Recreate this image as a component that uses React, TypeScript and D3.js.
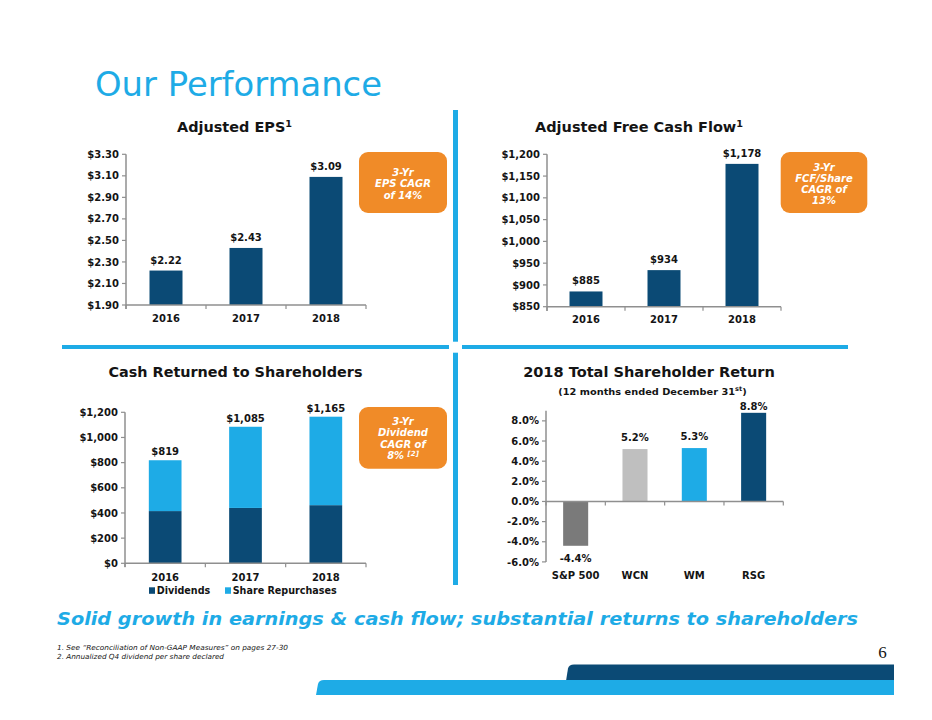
import React from "react";
import * as d3 from "d3";

const years = ["2016", "2017", "2018"];
const epsValues = [2.22, 2.43, 3.09];
const epsTicks = [1.9, 2.1, 2.3, 2.5, 2.7, 2.9, 3.1, 3.3];
const fcfValues = [885, 934, 1178];
const fcfTicks = [850, 900, 950, 1000, 1050, 1100, 1150, 1200];
const dividends = [415, 440, 462];
const repurchases = [404, 645, 703];
const cashTotals = [819, 1085, 1165];
const cashTicks = [0, 200, 400, 600, 800, 1000, 1200];
const tsrCategories = ["S&P 500", "WCN", "WM", "RSG"];
const tsrValues = [-4.4, 5.2, 5.3, 8.8];
const tsrTicks = [-6, -4, -2, 0, 2, 4, 6, 8];

const NAVY = "#0b4a75";
const LIGHT = "#1eabe6";
const ORANGE = "#f08b28";
const AXIS = "#8f8f8f";
const TEXT = "#141414";
const FONT = "DejaVu Sans, Verdana, sans-serif";

type YAxisProps = {
  scale: d3.ScaleLinear<number, number>;
  ticks: number[];
  x: number;
  top: number;
  bottom: number;
  fmt: (v: number) => string;
};

function YAxis({ scale, ticks, x, top, bottom, fmt }: YAxisProps) {
  return (
    <g>
      <line x1={x} x2={x} y1={top} y2={bottom} stroke={AXIS} strokeWidth={1.5} />
      {ticks.map((t) => (
        <g key={t}>
          <line x1={x - 4} x2={x} y1={scale(t)} y2={scale(t)} stroke={AXIS} strokeWidth={1.2} />
          <text
            x={x - 7}
            y={scale(t)}
            dy="0.36em"
            textAnchor="end"
            fontFamily={FONT}
            fontWeight="bold"
            fontSize={10}
            fill={TEXT}
          >
            {fmt(t)}
          </text>
        </g>
      ))}
    </g>
  );
}

type XAxisProps = {
  scale: d3.ScaleBand<string>;
  y: number;
  labelY: number;
};

function XAxis({ scale, y, labelY }: XAxisProps) {
  const [x0, x1] = scale.range();
  const n = scale.domain().length;
  const step = (x1 - x0) / n;
  const bounds = d3.range(n + 1).map((i) => x0 + i * step);
  return (
    <g>
      <line x1={x0} x2={x1} y1={y} y2={y} stroke={AXIS} strokeWidth={1.5} />
      {bounds.map((b, i) => (
        <line key={i} x1={b} x2={b} y1={y} y2={y + 4} stroke={AXIS} strokeWidth={1.2} />
      ))}
      {scale.domain().map((d) => (
        <text
          key={d}
          x={(scale(d) as number) + scale.bandwidth() / 2}
          y={labelY}
          textAnchor="middle"
          fontFamily={FONT}
          fontWeight="bold"
          fontSize={10}
          fill={TEXT}
        >
          {d}
        </text>
      ))}
    </g>
  );
}

function Callout({ x, y, w, h, lines, lineY }: { x: number; y: number; w: number; h: number; lines: React.ReactNode[]; lineY: number[] }) {
  return (
    <g>
      <rect x={x} y={y} width={w} height={h} rx={9} ry={9} fill={ORANGE} />
      {lines.map((l, i) => (
        <text
          key={i}
          x={x + w / 2}
          y={lineY[i]}
          textAnchor="middle"
          fontFamily={FONT}
          fontWeight="bold"
          fontStyle="italic"
          fontSize={10}
          fill="#ffffff"
        >
          {l}
        </text>
      ))}
    </g>
  );
}

function Title({ cx, y, width, children, size = 13.5 }: { cx: number; y: number; width: number; children: React.ReactNode; size?: number }) {
  return (
    <text
      x={cx - width / 2}
      y={y}
      textLength={width}
      lengthAdjust="spacingAndGlyphs"
      fontFamily={FONT}
      fontWeight="bold"
      fontSize={size}
      fill={TEXT}
    >
      {children}
    </text>
  );
}

function ValueLabel({ x, y, text }: { x: number; y: number; text: string }) {
  return (
    <text x={x} y={y} textAnchor="middle" fontFamily={FONT} fontWeight="bold" fontSize={10} fill={TEXT}>
      {text}
    </text>
  );
}

export default function App() {
  // EPS
  const epsX = d3.scaleBand<string>().domain(years).range([126, 366]).paddingInner(0.5875).paddingOuter(0.29375);
  const epsY = d3.scaleLinear().domain([1.9, 3.3]).range([305, 154.3]);
  // FCF
  const fcfX = d3.scaleBand<string>().domain(years).range([547, 781]).paddingInner(0.577).paddingOuter(0.2885);
  const fcfY = d3.scaleLinear().domain([850, 1200]).range([306.7, 154.3]);
  // Cash returned
  const cashX = d3.scaleBand<string>().domain(years).range([125, 366]).paddingInner(0.593).paddingOuter(0.2965);
  const cashY = d3.scaleLinear().domain([0, 1200]).range([563.3, 412.3]);
  // TSR
  const tsrX = d3.scaleBand<string>().domain(tsrCategories).range([546, 783.3]).paddingInner(0.578).paddingOuter(0.289);
  const tsrY = d3.scaleLinear().domain([-6, 9]).range([561.9, 410.8]);
  const tsrColors = ["#7a7a7a", "#bfbfbf", LIGHT, NAVY];

  const stack = d3
    .stack<{ year: string; div: number; rep: number }>()
    .keys(["div", "rep"])(years.map((y, i) => ({ year: y, div: dividends[i], rep: repurchases[i] })));

  const money = d3.format(",");

  const ribbon = (left: number, top: number, right: number, bottom: number) =>
    `M${left},${bottom} L${left + 2},${top + 4} Q${left + 3},${top} ${left + 8},${top} L${right},${top} L${right},${bottom} Z`;

  return (
    <svg
      width={932}
      height={720}
      viewBox="0 0 932 720"
      style={{ position: "absolute", left: 0, top: 0, background: "#ffffff" }}
    >
      <rect x={0} y={0} width={932} height={720} fill="#ffffff" />
      <text
        x={95}
        y={96}
        textLength={287}
        lengthAdjust="spacingAndGlyphs"
        fontFamily={FONT}
        fontSize={33}
        fill={LIGHT}
      >
        Our Performance
      </text>

      {/* dividers */}
      <rect x={453} y={110} width={5} height={231.7} fill={LIGHT} />
      <rect x={453} y={352.7} width={5} height={232.3} fill={LIGHT} />
      <rect x={62} y={345} width={387} height={4} fill={LIGHT} />
      <rect x={462} y={345} width={386} height={4} fill={LIGHT} />

      {/* EPS */}
      <Title cx={234.5} y={131.7} width={115}>
        Adjusted EPS<tspan fontSize={9} dy={-5}>1</tspan>
      </Title>
      <YAxis scale={epsY} ticks={epsTicks} x={126} top={154.3} bottom={309} fmt={(v) => "$" + v.toFixed(2)} />
      {years.map((y, i) => (
        <g key={y}>
          <rect x={epsX(y)} y={epsY(epsValues[i])} width={epsX.bandwidth()} height={305 - epsY(epsValues[i])} fill={NAVY} />
          <ValueLabel x={(epsX(y) as number) + epsX.bandwidth() / 2} y={epsY(epsValues[i]) - 7} text={"$" + epsValues[i].toFixed(2)} />
        </g>
      ))}
      <XAxis scale={epsX} y={305} labelY={322} />
      <Callout x={359} y={152} w={88} h={61} lines={["3-Yr", "EPS CAGR", "of 14%"]} lineY={[175.5, 187, 198.5]} />

      {/* FCF */}
      <Title cx={639} y={132} width={208}>
        Adjusted Free Cash Flow<tspan fontSize={9} dy={-5}>1</tspan>
      </Title>
      <YAxis scale={fcfY} ticks={fcfTicks} x={547} top={154.3} bottom={311} fmt={(v) => "$" + money(v)} />
      {years.map((y, i) => (
        <g key={y}>
          <rect x={fcfX(y)} y={fcfY(fcfValues[i])} width={fcfX.bandwidth()} height={306.7 - fcfY(fcfValues[i])} fill={NAVY} />
          <ValueLabel x={(fcfX(y) as number) + fcfX.bandwidth() / 2} y={fcfY(fcfValues[i]) - 7} text={"$" + money(fcfValues[i])} />
        </g>
      ))}
      <XAxis scale={fcfX} y={306.7} labelY={323} />
      <Callout
        x={780.7}
        y={152}
        w={86.6}
        h={61}
        lines={["3-Yr", "FCF/Share", "CAGR of", "13%"]}
        lineY={[170.5, 181.5, 192.5, 203.5]}
      />

      {/* Cash returned */}
      <Title cx={235.5} y={376.5} width={254}>
        Cash Returned to Shareholders
      </Title>
      <YAxis scale={cashY} ticks={cashTicks} x={125} top={412.3} bottom={567} fmt={(v) => "$" + money(v)} />
      {stack.map((series, si) =>
        series.map((d, i) => (
          <rect
            key={si + "-" + i}
            x={cashX(years[i])}
            y={cashY(d[1])}
            width={cashX.bandwidth()}
            height={cashY(d[0]) - cashY(d[1])}
            fill={si === 0 ? NAVY : LIGHT}
          />
        ))
      )}
      {years.map((y, i) => (
        <ValueLabel
          key={y}
          x={(cashX(y) as number) + cashX.bandwidth() / 2}
          y={cashY(cashTotals[i]) - 5}
          text={"$" + money(cashTotals[i])}
        />
      ))}
      <XAxis scale={cashX} y={563.3} labelY={580.5} />
      <rect x={149} y={587.3} width={6} height={6.5} fill={NAVY} />
      <text x={156.7} y={594} fontFamily={FONT} fontWeight="bold" fontSize={9.6} fill={TEXT}>
        Dividends
      </text>
      <rect x={225} y={587.3} width={6} height={6.5} fill={LIGHT} />
      <text x={232.7} y={594} fontFamily={FONT} fontWeight="bold" fontSize={9.6} fill={TEXT}>
        Share Repurchases
      </text>
      <Callout
        x={359}
        y={407}
        w={88}
        h={61.7}
        lines={[
          "3-Yr",
          "Dividend",
          "CAGR of",
          <tspan key="s">
            8%{" "}
            <tspan fontSize={7} dy={-3}>
              [2]
            </tspan>
          </tspan>,
        ]}
        lineY={[425, 436.3, 447.8, 459.3]}
      />

      {/* TSR */}
      <Title cx={649} y={376.5} width={251.7}>
        2018 Total Shareholder Return
      </Title>
      <text
        x={558.3}
        y={394.5}
        textLength={188.4}
        lengthAdjust="spacingAndGlyphs"
        fontFamily={FONT}
        fontWeight="bold"
        fontSize={9.5}
        fill={TEXT}
      >
        (12 months ended December 31<tspan fontSize={6.5} dy={-3.5}>st</tspan>
        <tspan dy={3.5}>)</tspan>
      </text>
      <YAxis scale={tsrY} ticks={tsrTicks} x={546} top={410.8} bottom={561.9} fmt={(v) => v.toFixed(1) + "%"} />
      {tsrCategories.map((c, i) => {
        const v = tsrValues[i];
        const y0 = tsrY(0);
        const yv = tsrY(v);
        const cx = (tsrX(c) as number) + tsrX.bandwidth() / 2;
        return (
          <g key={c}>
            <rect x={tsrX(c)} y={Math.min(y0, yv)} width={tsrX.bandwidth()} height={Math.abs(yv - y0)} fill={tsrColors[i]} />
            <ValueLabel x={cx} y={v < 0 ? yv + 16 : Math.max(yv - 8, 409.5)} text={v.toFixed(1) + "%"} />
          </g>
        );
      })}
      <XAxis scale={tsrX} y={tsrY(0)} labelY={579} />

      {/* tagline */}
      <text
        x={57}
        y={625}
        textLength={801}
        lengthAdjust="spacingAndGlyphs"
        fontFamily={FONT}
        fontWeight="bold"
        fontStyle="italic"
        fontSize={18}
        fill={LIGHT}
      >
        Solid growth in earnings &amp; cash flow; substantial returns to shareholders
      </text>

      {/* footnotes */}
      <text x={57} y={649.5} textLength={231} lengthAdjust="spacingAndGlyphs" fontFamily={FONT} fontStyle="italic" fontSize={7} fill={TEXT}>
        1. See “Reconciliation of Non-GAAP Measures” on pages 27-30
      </text>
      <text x={57} y={659} textLength={167} lengthAdjust="spacingAndGlyphs" fontFamily={FONT} fontStyle="italic" fontSize={7} fill={TEXT}>
        2. Annualized Q4 dividend per share declared
      </text>

      {/* page number */}
      <text x={882.5} y={658} textAnchor="middle" fontFamily="Liberation Serif, serif" fontSize={17} fill={TEXT}>
        6
      </text>

      {/* bottom ribbons */}
      <path d={ribbon(566, 664.5, 894, 681)} fill={NAVY} />
      <path d={ribbon(316, 680, 894, 695)} fill={LIGHT} />
    </svg>
  );
}
